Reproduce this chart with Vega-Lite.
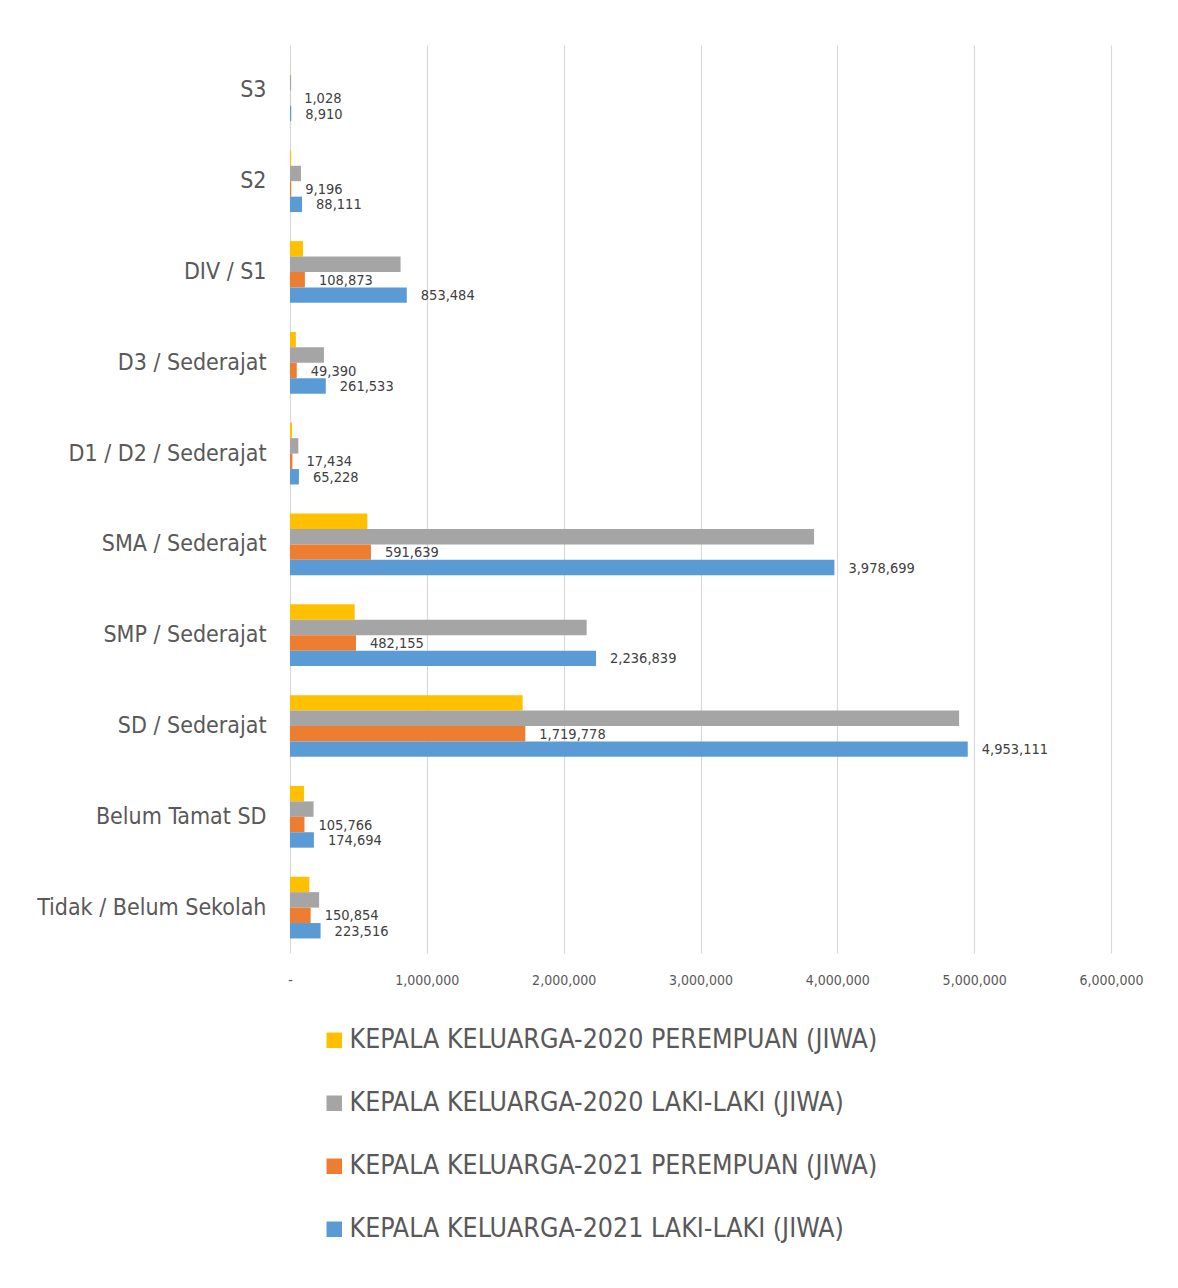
{
  "$schema": "https://vega.github.io/schema/vega-lite/v6.json",
  "autosize": {"type": "none"},
  "padding": {"left": 290, "top": 45, "right": 67, "bottom": 335},
  "width": 821,
  "height": 908,
  "background": "white",
  "config": {
    "font": "'DejaVu Sans Condensed', 'Liberation Sans Narrow', sans-serif",
    "view": {"stroke": null}
  },
  "data": {
    "values": [
      {"cat": "S3", "series": "KEPALA KELUARGA-2020 PEREMPUAN (JIWA)", "value": 900},
      {"cat": "S3", "series": "KEPALA KELUARGA-2020 LAKI-LAKI (JIWA)", "value": 8000},
      {"cat": "S3", "series": "KEPALA KELUARGA-2021 PEREMPUAN (JIWA)", "value": 1028},
      {"cat": "S3", "series": "KEPALA KELUARGA-2021 LAKI-LAKI (JIWA)", "value": 8910},
      {"cat": "S2", "series": "KEPALA KELUARGA-2020 PEREMPUAN (JIWA)", "value": 8000},
      {"cat": "S2", "series": "KEPALA KELUARGA-2020 LAKI-LAKI (JIWA)", "value": 80000},
      {"cat": "S2", "series": "KEPALA KELUARGA-2021 PEREMPUAN (JIWA)", "value": 9196},
      {"cat": "S2", "series": "KEPALA KELUARGA-2021 LAKI-LAKI (JIWA)", "value": 88111},
      {"cat": "DIV / S1", "series": "KEPALA KELUARGA-2020 PEREMPUAN (JIWA)", "value": 95000},
      {"cat": "DIV / S1", "series": "KEPALA KELUARGA-2020 LAKI-LAKI (JIWA)", "value": 808000},
      {"cat": "DIV / S1", "series": "KEPALA KELUARGA-2021 PEREMPUAN (JIWA)", "value": 108873},
      {"cat": "DIV / S1", "series": "KEPALA KELUARGA-2021 LAKI-LAKI (JIWA)", "value": 853484},
      {"cat": "D3 / Sederajat", "series": "KEPALA KELUARGA-2020 PEREMPUAN (JIWA)", "value": 43000},
      {"cat": "D3 / Sederajat", "series": "KEPALA KELUARGA-2020 LAKI-LAKI (JIWA)", "value": 248000},
      {"cat": "D3 / Sederajat", "series": "KEPALA KELUARGA-2021 PEREMPUAN (JIWA)", "value": 49390},
      {"cat": "D3 / Sederajat", "series": "KEPALA KELUARGA-2021 LAKI-LAKI (JIWA)", "value": 261533},
      {"cat": "D1 / D2 / Sederajat", "series": "KEPALA KELUARGA-2020 PEREMPUAN (JIWA)", "value": 15000},
      {"cat": "D1 / D2 / Sederajat", "series": "KEPALA KELUARGA-2020 LAKI-LAKI (JIWA)", "value": 61000},
      {"cat": "D1 / D2 / Sederajat", "series": "KEPALA KELUARGA-2021 PEREMPUAN (JIWA)", "value": 17434},
      {"cat": "D1 / D2 / Sederajat", "series": "KEPALA KELUARGA-2021 LAKI-LAKI (JIWA)", "value": 65228},
      {"cat": "SMA / Sederajat", "series": "KEPALA KELUARGA-2020 PEREMPUAN (JIWA)", "value": 565000},
      {"cat": "SMA / Sederajat", "series": "KEPALA KELUARGA-2020 LAKI-LAKI (JIWA)", "value": 3830000},
      {"cat": "SMA / Sederajat", "series": "KEPALA KELUARGA-2021 PEREMPUAN (JIWA)", "value": 591639},
      {"cat": "SMA / Sederajat", "series": "KEPALA KELUARGA-2021 LAKI-LAKI (JIWA)", "value": 3978699},
      {"cat": "SMP / Sederajat", "series": "KEPALA KELUARGA-2020 PEREMPUAN (JIWA)", "value": 473000},
      {"cat": "SMP / Sederajat", "series": "KEPALA KELUARGA-2020 LAKI-LAKI (JIWA)", "value": 2168000},
      {"cat": "SMP / Sederajat", "series": "KEPALA KELUARGA-2021 PEREMPUAN (JIWA)", "value": 482155},
      {"cat": "SMP / Sederajat", "series": "KEPALA KELUARGA-2021 LAKI-LAKI (JIWA)", "value": 2236839},
      {"cat": "SD / Sederajat", "series": "KEPALA KELUARGA-2020 PEREMPUAN (JIWA)", "value": 1700000},
      {"cat": "SD / Sederajat", "series": "KEPALA KELUARGA-2020 LAKI-LAKI (JIWA)", "value": 4890000},
      {"cat": "SD / Sederajat", "series": "KEPALA KELUARGA-2021 PEREMPUAN (JIWA)", "value": 1719778},
      {"cat": "SD / Sederajat", "series": "KEPALA KELUARGA-2021 LAKI-LAKI (JIWA)", "value": 4953111},
      {"cat": "Belum Tamat SD", "series": "KEPALA KELUARGA-2020 PEREMPUAN (JIWA)", "value": 103000},
      {"cat": "Belum Tamat SD", "series": "KEPALA KELUARGA-2020 LAKI-LAKI (JIWA)", "value": 172000},
      {"cat": "Belum Tamat SD", "series": "KEPALA KELUARGA-2021 PEREMPUAN (JIWA)", "value": 105766},
      {"cat": "Belum Tamat SD", "series": "KEPALA KELUARGA-2021 LAKI-LAKI (JIWA)", "value": 174694},
      {"cat": "Tidak / Belum Sekolah", "series": "KEPALA KELUARGA-2020 PEREMPUAN (JIWA)", "value": 141000},
      {"cat": "Tidak / Belum Sekolah", "series": "KEPALA KELUARGA-2020 LAKI-LAKI (JIWA)", "value": 213000},
      {"cat": "Tidak / Belum Sekolah", "series": "KEPALA KELUARGA-2021 PEREMPUAN (JIWA)", "value": 150854},
      {"cat": "Tidak / Belum Sekolah", "series": "KEPALA KELUARGA-2021 LAKI-LAKI (JIWA)", "value": 223516}
    ]
  },
  "encoding": {
    "y": {
      "field": "cat",
      "type": "nominal",
      "sort": null,
      "title": null,
      "scale": {"paddingInner": 0.32, "paddingOuter": 0.16},
      "axis": {
        "ticks": false,
        "domain": false,
        "labelFontSize": 23,
        "labelColor": "#595959",
        "labelPadding": 24,
        "labelLimit": 300
      }
    },
    "yOffset": {
      "field": "series",
      "type": "nominal",
      "sort": [
        "KEPALA KELUARGA-2020 PEREMPUAN (JIWA)",
        "KEPALA KELUARGA-2020 LAKI-LAKI (JIWA)",
        "KEPALA KELUARGA-2021 PEREMPUAN (JIWA)",
        "KEPALA KELUARGA-2021 LAKI-LAKI (JIWA)"
      ],
      "scale": {"paddingInner": 0, "paddingOuter": 0}
    },
    "x": {
      "field": "value",
      "type": "quantitative",
      "title": null,
      "scale": {"domain": [0, 6000000], "nice": false},
      "axis": {
        "values": [0, 1000000, 2000000, 3000000, 4000000, 5000000, 6000000],
        "labelExpr": "datum.value == 0 ? '-' : format(datum.value, ',')",
        "labelFlush": false,
        "ticks": false,
        "domain": false,
        "grid": true,
        "gridColor": "#d9d9d9",
        "gridWidth": 1.2,
        "labelFontSize": 14,
        "labelColor": "#595959",
        "labelPadding": 20
      }
    }
  },
  "layer": [
    {
      "mark": {"type": "bar"},
      "encoding": {
        "color": {
          "field": "series",
          "type": "nominal",
          "scale": {
            "domain": [
              "KEPALA KELUARGA-2020 PEREMPUAN (JIWA)",
              "KEPALA KELUARGA-2020 LAKI-LAKI (JIWA)",
              "KEPALA KELUARGA-2021 PEREMPUAN (JIWA)",
              "KEPALA KELUARGA-2021 LAKI-LAKI (JIWA)"
            ],
            "range": ["#FFC000", "#A5A5A5", "#ED7D31", "#5B9BD5"]
          },
          "legend": {
            "title": null,
            "orient": "none",
            "legendX": 31,
            "legendY": 982,
            "direction": "vertical",
            "symbolType": "square",
            "symbolSize": 240,
            "symbolStrokeWidth": 0,
            "labelFontSize": 26.5,
            "labelColor": "#595959",
            "labelOffset": 2,
            "labelLimit": 800,
            "rowPadding": 36
          }
        }
      }
    },
    {
      "transform": [{"filter": "indexof(datum.series, '2021') >= 0"}],
      "mark": {"type": "text", "align": "left", "baseline": "middle", "dx": 14, "dy": 1, "fontSize": 14.5, "color": "#404040"},
      "encoding": {
        "text": {"field": "value", "type": "quantitative", "format": ","}
      }
    }
  ]
}
